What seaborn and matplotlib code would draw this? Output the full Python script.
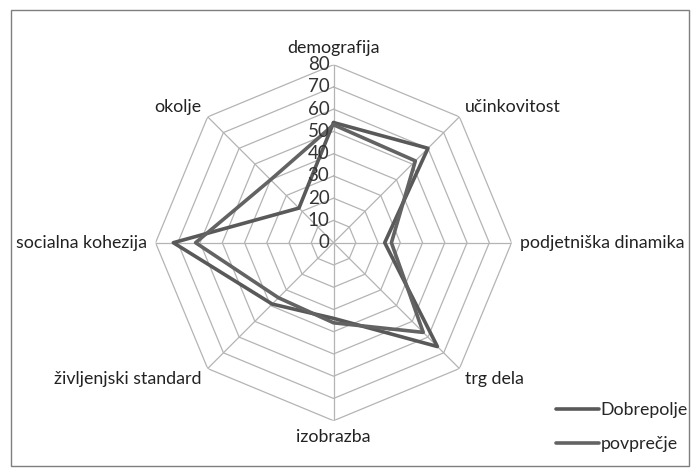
import numpy as np
import pandas as pd
import matplotlib
matplotlib.use("Agg")
import matplotlib.pyplot as plt
import seaborn as sns
from matplotlib.patches import Rectangle
from matplotlib.lines import Line2D

# categories clockwise from the top
categories = ["demografija", "učinkovitost", "podjetniška dinamika", "trg dela",
              "izobrazba", "življenjski standard", "socialna kohezija", "okolje"]
dobrepolje = [54, 60, 23, 66, 34, 39, 72, 22]
povprecje = [53, 52, 26, 57, 36, 35, 62, 40]
seriesNames = ["Dobrepolje", "povprečje"]
ringTicks = [0, 10, 20, 30, 40, 50, 60, 70, 80]

sns.set_theme(style="white")
plt.rcParams['font.family'] = ['Lato', 'DejaVu Sans']

n = len(categories)
angles = np.arange(n) * 2 * np.pi / n
closedAngles = np.append(angles, 2 * np.pi)

# long table, polygon closed by repeating the first value at 2*pi
rows = []
for name, vals in zip(seriesNames, [dobrepolje, povprecje]):
    for theta, v in zip(closedAngles, list(vals) + [vals[0]]):
        rows.append({'serija': name, 'theta': theta, 'value': v})
df = pd.DataFrame(rows)

fig = plt.figure(figsize=(7, 4.75), dpi=100)
ax = fig.add_axes([0.222, 0.1143, 0.509, 0.7495], projection='polar')
ax.set_theta_zero_location('N')
ax.set_theta_direction(-1)
ax.set_ylim(0, 80)
ax.grid(False)
ax.spines['polar'].set_visible(False)
ax.set_xticks([])
ax.set_yticks([])

# octagonal grid rings and spokes
gridColor = '#b4b4b4'
for r in ringTicks[1:]:
    ax.plot(closedAngles, [r] * (n + 1), color=gridColor, lw=0.9, zorder=1)
for a in angles:
    ax.plot([a, a], [0, 80], color=gridColor, lw=0.9, zorder=1)

lineColors = ['#595959', '#636363']
sns.lineplot(data=df, x='theta', y='value', hue='serija', sort=False, estimator=None,
             palette=lineColors, linewidth=2.6, ax=ax, legend=False, zorder=3)
ax.set_xlabel('')
ax.set_ylabel('')

fs = 12.8
# radial tick labels left of the vertical axis
for r in ringTicks:
    ax.annotate(str(r), xy=(0, r), xytext=(-3, 0), textcoords='offset points',
                ha='right', va='center', fontsize=13.5, color='#333333')

# category labels outside the vertices
for a, lab in zip(angles, categories):
    s, c = np.sin(a), np.cos(a)
    ha = 'center' if abs(s) < 0.1 else ('left' if s > 0 else 'right')
    va = 'center' if abs(c) < 0.1 else ('bottom' if c > 0 else 'top')
    off = (6 * s, 6 * c if abs(c) > 0.9 else 2 * c)
    ax.annotate(lab, xy=(a, 80), xytext=off, textcoords='offset points',
                ha=ha, va=va, fontsize=fs, color='#222222')

# legend
handles = [Line2D([0], [0], color=col, lw=2.6) for col in lineColors]
fig.legend(handles, seriesNames, loc='lower left', bbox_to_anchor=(0.772, 0.015),
           frameon=False, fontsize=fs, handlelength=2.4, handletextpad=0.1,
           labelspacing=1.0)

fig.add_artist(Rectangle((0.016, 0.02), 0.968, 0.96, transform=fig.transFigure,
                         fill=False, edgecolor='#7f7f7f', lw=1.0))

fig.savefig('out.png', dpi=100, facecolor='white')
